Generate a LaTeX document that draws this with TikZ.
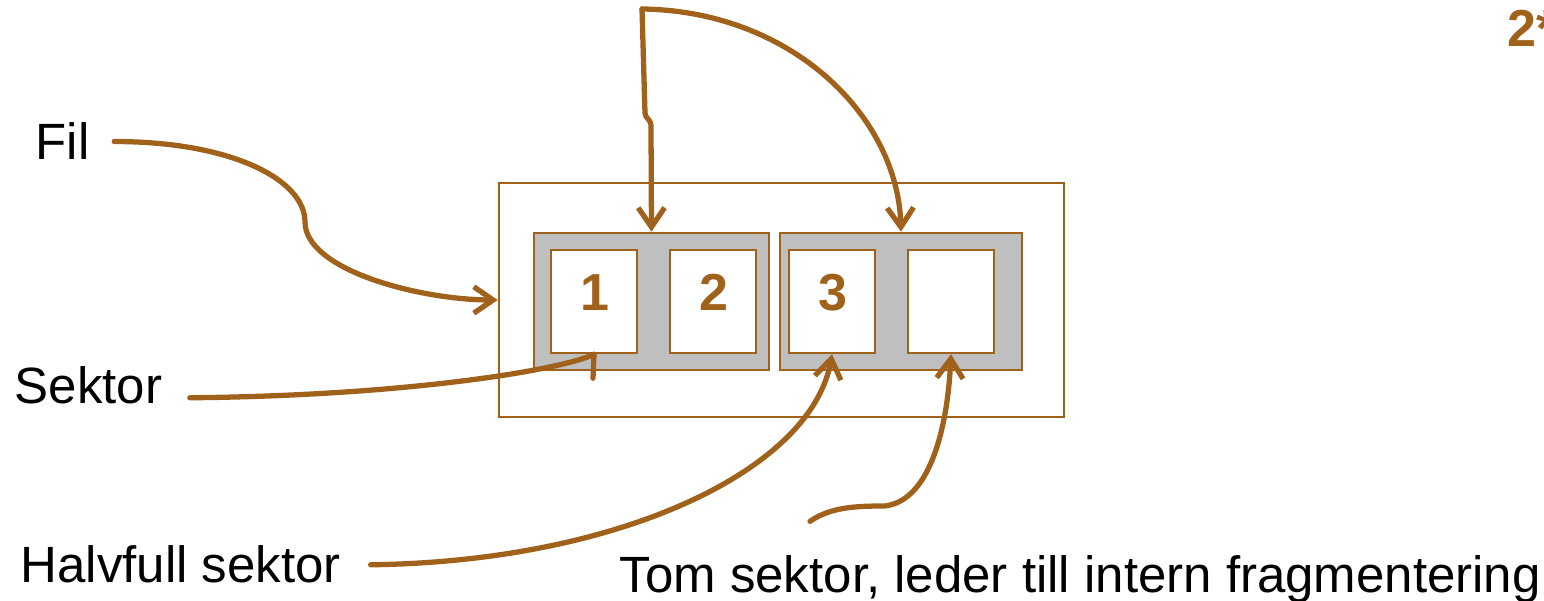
\documentclass[tikz,border=0pt]{standalone}
\usepackage{fontspec}
\setmainfont{Liberation Sans}
\definecolor{rust}{HTML}{A0621A}
\definecolor{platter}{HTML}{BFBFBF}
\usetikzlibrary{arrows.meta,calc}

\begin{document}
\begin{tikzpicture}[x=0.01cm,y=-0.01cm,
  font=\fontsize{14.5}{17}\selectfont,
  lbl/.style={anchor=base west,inner sep=0pt},
  num/.style={text=rust,font=\fontsize{14.8}{17}\selectfont\bfseries},
  link/.style={line width=1.5pt,rust,line cap=round,line join=round},
  pointer/.style={link,-{Straight Barb[length=5.5pt,width=7.5pt]}},
  cluster/.style={draw=rust,line width=0.7pt,fill=platter,minimum height=1.37cm},
  sector/.style={draw=rust,line width=0.7pt,fill=white,minimum width=0.86cm,minimum height=1.03cm}]
\useasboundingbox (0,0) rectangle (1544,601);

% the file, two clusters of two sectors each
\node[draw=rust,line width=0.6pt,minimum width=5.65cm,minimum height=2.34cm] (disk) at (781.5,300) {};
\node[cluster,minimum width=2.35cm] (g1) at (651.5,301.5) {};
\node[cluster,minimum width=2.42cm] (g2) at (901,301.5) {};
\foreach \n/\x in {1/594,2/713,3/832,4/951}
  \node[sector] (s\n) at (\x,301.5) {};
\foreach \n in {1,2,3}
  \node[num] at ($(s\n)+(1,-9)$) {\n};

\node[lbl] (fil) at (35,160) {Fil};
\node[lbl] (sektor) at (14,404) {Sektor};
\node[lbl] (halv) at (20,583) {Halvfull sektor};
\node[lbl] (tom) at (619,593) {Tom sektor, leder till intern fragmentering};
\node[lbl,num] (note) at (1507,47) {2*};

\coordinate (kluster) at (642,9);
\coordinate (filtail) at ($(fil.east)+(24,0)$);
\coordinate (sektortail) at ($(sektor.east)+(27,12)$);
\coordinate (halvtail) at ($(halv.east)+(29,0)$);
\coordinate (tomtail) at ($(tom.north west)+(191,-34)$);

% connectors
\draw[pointer] (kluster) -- ++(3,104) .. controls +(0,5) and +(0,-5) .. ++(6,12) -- (g1.north);
\draw[pointer] (kluster) .. controls +(150,2) and +(-3,-115) .. (g2.north);
\draw[pointer] (filtail) .. controls +(118,0) and +(0,-42) .. (305,222)
  .. controls +(0,48) and +(-78,0) .. (disk.west);
\draw[link] (sektortail) .. controls +(220,-2) and +(-30,15) .. (s1.south);
\draw[link] (s1.south) -- ++(-1,24);
\draw[pointer] (halvtail) .. controls +(250,-3) and +(-20,115) .. (s3.south);
\draw[pointer] (tomtail) .. controls +(20,-14) and +(-30,0) .. (885,506)
  .. controls +(48,-6) and +(-3,65) .. (s4.south);
\end{tikzpicture}
\end{document}
